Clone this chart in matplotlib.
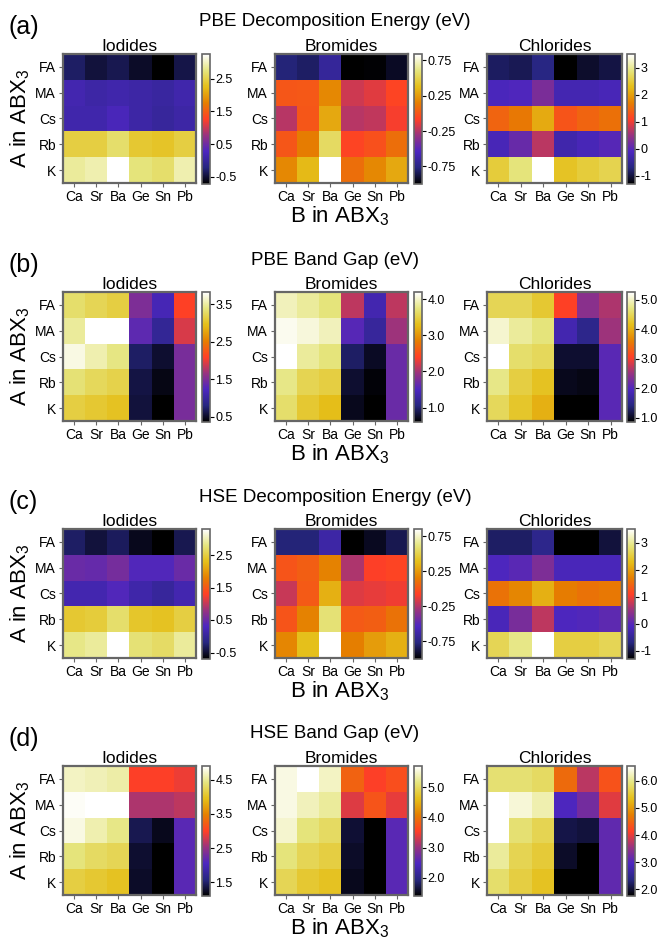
import matplotlib
matplotlib.use('Agg')
import matplotlib.pyplot as plt
import numpy as np

plt.rcParams['font.family'] = ['Liberation Sans', 'DejaVu Sans']
plt.rcParams['mathtext.fontset'] = 'custom'
plt.rcParams['mathtext.rm'] = 'Liberation Sans'
plt.rcParams['mathtext.default'] = 'rm'
plt.rcParams['axes.unicode_minus'] = False

a_sites = ['FA', 'MA', 'Cs', 'Rb', 'K']
b_sites = ['Ca', 'Sr', 'Ba', 'Ge', 'Sn', 'Pb']
halides = ['Iodides', 'Bromides', 'Chlorides']

# (a) PBE decomposition energy (eV), rows = A site, cols = B site
pbe_decomp_I = [[-0.32, -0.48, -0.40, -0.56, -0.72, -0.44],
                [0.16, 0.08, 0.12, 0.08, 0.04, 0.12],
                [0.12, 0.12, 0.24, 0.08, 0.00, 0.08],
                [2.46, 2.46, 2.66, 2.38, 2.34, 2.46],
                [2.86, 2.94, 3.26, 2.74, 2.66, 2.94]]
pbe_decomp_Br = [[-0.78, -0.82, -0.67, -1.00, -0.99, -0.93],
                 [0.00, 0.01, 0.18, -0.19, -0.15, -0.06],
                 [-0.24, 0.00, 0.30, -0.24, -0.22, -0.10],
                 [0.00, 0.14, 0.54, -0.06, -0.02, 0.09],
                 [0.18, 0.36, 0.84, 0.09, 0.18, 0.30]]
pbe_decomp_Cl = [[-0.85, -0.90, -0.65, -1.30, -1.08, -0.98],
                 [-0.12, -0.07, 0.27, -0.22, -0.22, -0.17],
                 [1.45, 1.64, 2.10, 1.30, 1.45, 1.55],
                 [-0.17, 0.12, 0.70, -0.27, -0.17, -0.02],
                 [2.50, 2.88, 3.50, 2.36, 2.50, 2.60]]

# (b) PBE band gap (eV)
pbe_gap_I = [[3.30, 3.20, 3.13, 1.50, 1.16, 2.09],
             [3.47, 3.82, 3.82, 1.33, 0.95, 1.92],
             [3.72, 3.54, 3.40, 0.71, 0.53, 1.47],
             [3.34, 3.23, 3.16, 0.60, 0.43, 1.47],
             [3.13, 3.06, 2.99, 0.57, 0.36, 1.47]]
pbe_gap_Br = [[3.95, 3.84, 3.73, 2.11, 1.39, 2.11],
              [4.13, 4.06, 3.95, 1.57, 1.25, 1.97],
              [4.20, 3.84, 3.73, 0.96, 0.74, 1.68],
              [3.77, 3.55, 3.48, 0.78, 0.64, 1.68],
              [3.66, 3.41, 3.30, 0.71, 0.60, 1.68]]
pbe_gap_Cl = [[4.47, 4.47, 4.29, 3.06, 2.39, 2.61],
              [5.04, 4.82, 4.69, 1.82, 1.51, 2.53],
              [5.26, 4.60, 4.51, 1.07, 1.07, 2.04],
              [4.73, 4.38, 4.20, 0.98, 0.94, 2.04],
              [4.51, 4.25, 4.03, 0.85, 0.85, 2.04]]

# (c) HSE decomposition energy (eV)
hse_decomp_I = [[-0.30, -0.46, -0.34, -0.58, -0.70, -0.38],
                [0.50, 0.46, 0.58, 0.34, 0.34, 0.50],
                [0.18, 0.18, 0.34, 0.14, 0.02, 0.18],
                [2.42, 2.46, 2.70, 2.38, 2.34, 2.50],
                [2.82, 2.90, 3.30, 2.74, 2.66, 2.90]]
hse_decomp_Br = [[-0.78, -0.78, -0.63, -1.00, -0.94, -0.85],
                 [0.00, 0.04, 0.17, -0.26, -0.08, -0.06],
                 [-0.20, 0.02, 0.33, -0.15, -0.13, -0.11],
                 [0.00, 0.17, 0.59, 0.02, 0.04, 0.11],
                 [0.18, 0.39, 0.85, 0.15, 0.26, 0.33]]
hse_decomp_Cl = [[-0.82, -0.82, -0.58, -1.30, -1.30, -1.01],
                 [-0.10, 0.00, 0.28, -0.15, -0.15, -0.15],
                 [1.58, 1.77, 2.16, 1.68, 1.58, 1.63],
                 [-0.15, 0.24, 0.72, -0.10, -0.05, 0.04],
                 [2.64, 2.92, 3.50, 2.54, 2.54, 2.64]]

# (d) HSE band gap (eV)
hse_gap_I = [[4.67, 4.63, 4.56, 3.00, 3.00, 2.92],
             [4.86, 4.90, 4.90, 2.62, 2.62, 2.70],
             [4.79, 4.60, 4.44, 1.40, 1.21, 2.13],
             [4.41, 4.29, 4.22, 1.29, 1.10, 2.13],
             [4.14, 4.06, 3.99, 1.25, 1.10, 2.13]]
hse_gap_Br = [[5.57, 5.70, 5.44, 3.85, 3.55, 3.68],
              [5.57, 5.40, 5.27, 3.38, 3.72, 3.42],
              [5.49, 5.14, 5.01, 1.62, 1.40, 2.56],
              [5.14, 4.93, 4.84, 1.57, 1.40, 2.56],
              [4.93, 4.75, 4.67, 1.53, 1.40, 2.56]]
hse_gap_Cl = [[5.87, 5.87, 5.78, 4.56, 3.74, 4.32],
              [6.55, 6.36, 6.17, 2.96, 3.26, 3.98],
              [6.55, 5.87, 5.68, 2.09, 2.04, 3.11],
              [6.07, 5.68, 5.53, 1.95, 1.75, 3.11],
              [5.83, 5.58, 5.39, 1.75, 1.75, 3.11]]

row_letters = ['(a)', '(b)', '(c)', '(d)']
row_titles = ['PBE Decomposition Energy (eV)', 'PBE Band Gap (eV)',
              'HSE Decomposition Energy (eV)', 'HSE Band Gap (eV)']
row_data = [[pbe_decomp_I, pbe_decomp_Br, pbe_decomp_Cl],
            [pbe_gap_I, pbe_gap_Br, pbe_gap_Cl],
            [hse_decomp_I, hse_decomp_Br, hse_decomp_Cl],
            [hse_gap_I, hse_gap_Br, hse_gap_Cl]]
row_cticks = [[[-0.5, 0.5, 1.5, 2.5], [-0.75, -0.25, 0.25, 0.75], [-1, 0, 1, 2, 3]],
              [[0.5, 1.5, 2.5, 3.5], [1.0, 2.0, 3.0, 4.0], [1.0, 2.0, 3.0, 4.0, 5.0]],
              [[-0.5, 0.5, 1.5, 2.5], [-0.75, -0.25, 0.25, 0.75], [-1, 0, 1, 2, 3]],
              [[1.5, 2.5, 3.5, 4.5], [2.0, 3.0, 4.0, 5.0], [2.0, 3.0, 4.0, 5.0, 6.0]]]
row_cfmt = [['%.1f', '%.2f', '%d'], ['%.1f'] * 3, ['%.1f', '%.2f', '%d'], ['%.1f'] * 3]

W, H = 657, 940
fig = plt.figure(figsize=(W / 100, H / 100), dpi=100)

ax_left = [63, 275, 487]
ax_w = [133, 133, 135]
cb_left = [202, 414, 627]
cb_w = 8
row_top = [54, 292, 529, 766]
ax_h = 129
edge = '#666666'


def fx(px):
    return px / W


def fy(py):
    return 1 - py / H


for r in range(4):
    top = row_top[r]
    for c in range(3):
        ax = fig.add_axes([fx(ax_left[c]), fy(top + ax_h), ax_w[c] / W, ax_h / H])
        im = ax.imshow(np.array(row_data[r][c]), cmap='CMRmap', aspect='auto')
        ax.set_xticks(range(len(b_sites)))
        ax.set_xticklabels(b_sites)
        ax.set_yticks(range(len(a_sites)))
        ax.set_yticklabels(a_sites)
        ax.tick_params(labelsize=10, length=3, color=edge, pad=2)
        for s in ax.spines.values():
            s.set_color(edge)
            s.set_linewidth(1.6)
        ax.set_title(halides[c], fontsize=12.5, pad=2)

        cax = fig.add_axes([fx(cb_left[c]), fy(top + ax_h + 1), cb_w / W, (ax_h + 1) / H])
        cb = fig.colorbar(im, cax=cax, ticks=row_cticks[r][c], format=row_cfmt[r][c])
        cb.outline.set_edgecolor(edge)
        cb.outline.set_linewidth(1.2)
        cax.tick_params(labelsize=9, length=3, width=0.8, pad=1)

    fig.text(fx(8), fy(top - 27), row_letters[r], fontsize=18, ha='left', va='center')
    fig.text(fx(335), fy(top - 32), row_titles[r], fontsize=13.5, ha='center', va='center')
    fig.text(fx(340), fy(top + ax_h + 33), 'B in ABX$_3$', fontsize=16, ha='center', va='center')
    fig.text(fx(20), fy(top + ax_h / 2), 'A in ABX$_3$', fontsize=16, ha='center', va='center',
             rotation=90)

fig.savefig('out.png', dpi=100)
